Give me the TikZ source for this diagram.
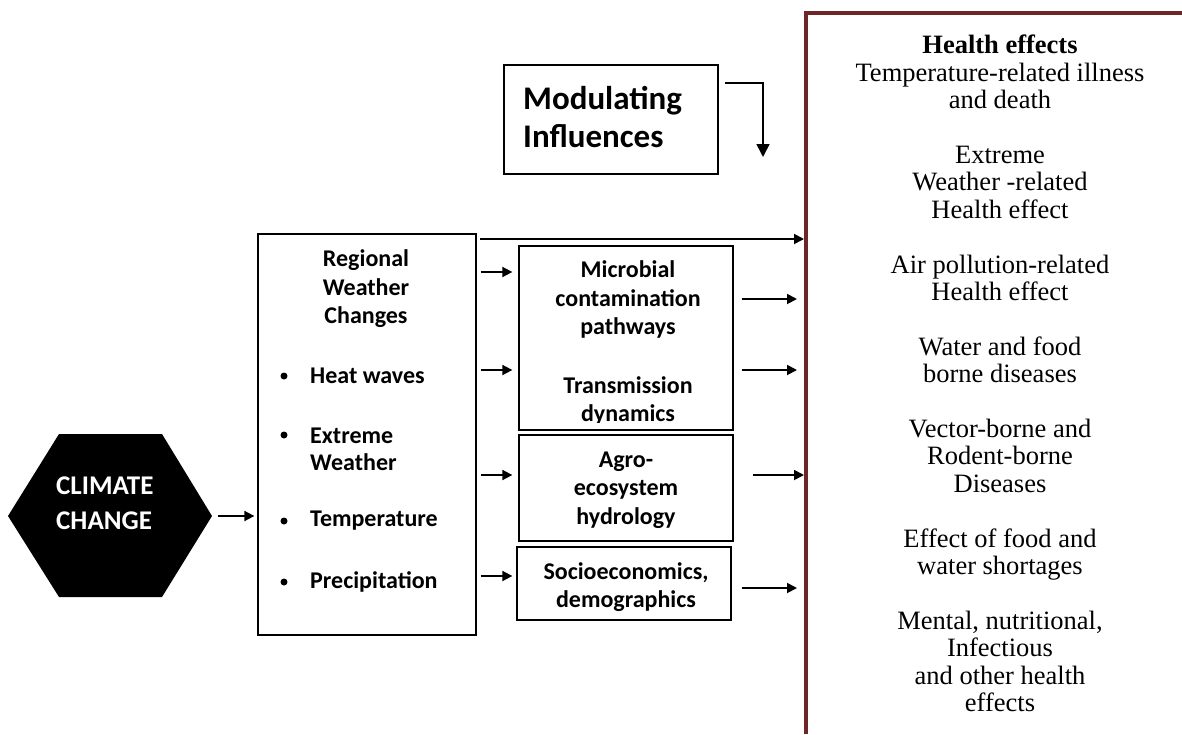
\documentclass[tikz,border=0pt]{standalone}
\usepackage{fontspec}
\setmainfont{Liberation Serif}
\newfontfamily\calfont{Carlito}
\usetikzlibrary{arrows.meta}
\definecolor{hred}{RGB}{110,38,38}
\tikzset{
  boxn/.style={draw=black, line width=1.3pt, inner sep=0pt, fill=none},
  sans/.style={font=\calfont\bfseries\fontsize{24}{28.5}\selectfont, align=center, inner sep=0pt},
  sansl/.style={font=\calfont\bfseries\fontsize{24}{27}\selectfont, align=left, inner sep=0pt},
  bul/.style={circle, fill=black, inner sep=0pt, minimum size=7pt},
  arr/.style={line width=1.8pt, -{Triangle[length=10pt,width=10pt]}},
}
\begin{document}
\begin{tikzpicture}[x=1pt,y=-1pt]
\useasboundingbox (0,0) rectangle (1182,734);

% health effects frame
\coordinate (hl) at (806,0);
\draw[hred, line width=4pt, line join=miter] (806,734) -- (806,13) -- (1182,13);
\node[font=\fontsize{26.5}{27.4}\selectfont, align=center, inner sep=0pt, anchor=north] (health) at (1000,35)
 {\textbf{Health effects}\\Temperature-related illness\\and death\\[27.4pt]
  Extreme\\Weather -related\\Health effect\\[27.4pt]
  Air pollution-related\\Health effect\\[27.4pt]
  Water and food\\borne diseases\\[27.4pt]
  Vector-borne and\\Rodent-borne\\Diseases\\[27.4pt]
  Effect of food and\\water shortages\\[27.4pt]
  Mental, nutritional,\\Infectious\\and other health\\effects};

% climate change hexagon
\fill[black] (8,516) -- (59,434) -- (162,434) -- (212,516) -- (162,597) -- (59,597) -- cycle;
\coordinate (hexR) at (212,516);
\node[font=\calfont\bfseries\fontsize{27}{35}\selectfont, text=white, align=left, inner sep=0pt, anchor=west] (cc) at (56,503) {CLIMATE\\CHANGE};

% boxes
\node[boxn, minimum width=218pt, minimum height=401pt] (reg) at (367,434.5) {};
\node[boxn, minimum width=214pt, minimum height=184pt] (mic) at (626,338) {};
\node[boxn, minimum width=214pt, minimum height=106pt] (agro) at (626,488) {};
\node[boxn, minimum width=214pt, minimum height=73pt] (soc) at (624,583.5) {};
\node[boxn, minimum width=214pt, minimum height=109pt] (mod) at (611,119.5) {};

% modulating text
\node[font=\calfont\bfseries\fontsize{33}{38}\selectfont, align=left, inner sep=0pt, anchor=west] (modt) at (523,117) {Modulating\\Influences};

% regional text
\node[sans] (regt) at (366,289) {Regional\\Weather\\Changes};
\node[bul] (b1) at (284,376) {};
\node[bul] (b2) at (284,435) {};
\node[bul] (b3) at (284,521) {};
\node[bul] (b4) at (284,582) {};
\node[sansl, anchor=west] (i1) at (310,376) {Heat waves};
\node[sansl, anchor=west] (i2) at (310,449) {Extreme\\Weather};
\node[sansl, anchor=west] (i3) at (310,521) {Temperature};
\node[sansl, anchor=west] (i4) at (310,582) {Precipitation};

% middle texts
\begin{scope}
\clip (519,246) rectangle (733,422.5);
\node[sans] (mict) at (628,343) {Microbial\\contamination\\pathways\\[30pt]Transmission\\dynamics};
\end{scope}
\node[sans] (agrot) at (626,490) {Agro-\\ecosystem\\hydrology};
\node[sans] (soct) at (626,587) {Socioeconomics,\\demographics};

% arrows
\draw[arr, shorten <=6pt, shorten >=3pt] (hexR) -- (reg.west |- hexR);
\coordinate (topstart) at (480,239);
\draw[arr, shorten >=2pt] (topstart) -- (hl |- topstart);
\draw[arr, shorten <=4pt, shorten >=6pt] (reg.east |- 0,272) -- (mic.west |- 0,272);
\draw[arr, shorten <=4pt, shorten >=6pt] (reg.east |- 0,370) -- (mic.west |- 0,370);
\draw[arr, shorten <=4pt, shorten >=6pt] (reg.east |- 0,475) -- (agro.west |- 0,475);
\draw[arr, shorten <=4pt, shorten >=4pt] (reg.east |- 0,576) -- (soc.west |- 0,576);
\draw[arr, shorten <=8pt, shorten >=9pt] (mic.east |- 0,299) -- (hl |- 0,299);
\draw[arr, shorten <=8pt, shorten >=9pt] (mic.east |- 0,370) -- (hl |- 0,370);
\draw[arr, shorten <=19pt, shorten >=2pt] (agro.east |- 0,475) -- (hl |- 0,475);
\draw[arr, shorten <=10pt, shorten >=9pt] (soc.east |- 0,588) -- (hl |- 0,588);
\coordinate (mstart) at (725,83);
\coordinate (mend) at (763,157);
\draw[line width=1.6pt, -{Triangle[length=13pt,width=13pt]}] (mstart) -| (mend);
\end{tikzpicture}
\end{document}
